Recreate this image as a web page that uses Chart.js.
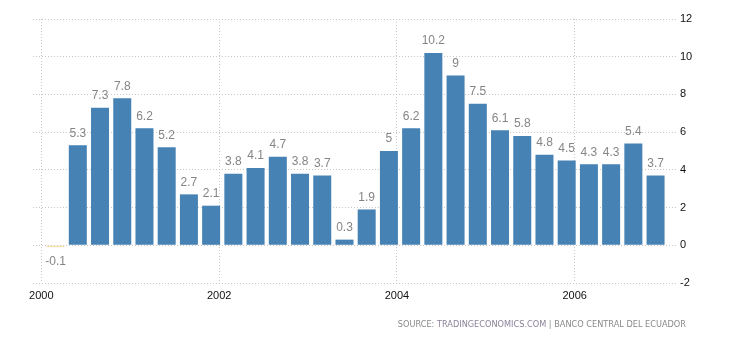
<!DOCTYPE html>
<html>
<head>
<meta charset="utf-8">
<script src="https://cdn.jsdelivr.net/npm/chart.js@4.4.0/dist/chart.umd.min.js"></script>
<style>
  html, body { margin: 0; padding: 0; background: #fff; }
  #wrap { width: 730px; height: 340px; }
</style>
</head>
<body>
<div id="wrap"><canvas id="myChart" width="730" height="340"></canvas></div>
<script>
// quarterly GDP growth, Ecuador (percent)
const quarters = [
  '2000 Q1', '2000 Q2', '2000 Q3', '2000 Q4',
  '2001 Q1', '2001 Q2', '2001 Q3', '2001 Q4',
  '2002 Q1', '2002 Q2', '2002 Q3', '2002 Q4',
  '2003 Q1', '2003 Q2', '2003 Q3', '2003 Q4',
  '2004 Q1', '2004 Q2', '2004 Q3', '2004 Q4',
  '2005 Q1', '2005 Q2', '2005 Q3', '2005 Q4',
  '2006 Q1', '2006 Q2', '2006 Q3', '2006 Q4'
];
const growth = [
  -0.1, 5.3, 7.3, 7.8,
  6.2, 5.2, 2.7, 2.1,
  3.8, 4.1, 4.7, 3.8,
  3.7, 0.3, 1.9, 5,
  6.2, 10.2, 9, 7.5,
  6.1, 5.8, 4.8, 4.5,
  4.3, 4.3, 5.4, 3.7
];
const xTicks = [2000, 2002, 2004, 2006];
const yTicks = [-2, 0, 2, 4, 6, 8, 10, 12];
const sourceText = ['SOURCE: ', 'TRADINGECONOMICS.COM', ' | BANCO CENTRAL DEL ECUADOR'];

// turn "2003 Q2" into a position on the year axis (data is dated inside the quarter)
function quarterToYear(q) {
  const parts = q.split(' Q');
  return Number(parts[0]) + (Number(parts[1]) - 1) * 0.25 + 0.16;
}

const points = quarters.map((q, i) => ({ x: quarterToYear(q), y: growth[i] }));

// value labels above (or below) each bar
const valueLabels = {
  id: 'valueLabels',
  afterDatasetsDraw(chart) {
    const ctx = chart.ctx;
    const meta = chart.getDatasetMeta(0);
    ctx.save();
    ctx.font = '12px "Liberation Sans", Arial, sans-serif';
    ctx.fillStyle = '#858585';
    ctx.textAlign = 'center';
    ctx.textBaseline = 'middle';
    meta.data.forEach((bar, i) => {
      const v = growth[i];
      ctx.fillText(String(v), bar.x, v < 0 ? bar.y + 15 : bar.y - 12);
    });
    ctx.restore();
  }
};

// source line under the chart
const sourceLine = {
  id: 'sourceLine',
  afterDraw(chart) {
    const ctx = chart.ctx;
    const area = chart.chartArea;
    ctx.save();
    ctx.font = '8.2px "DejaVu Sans", sans-serif';
    ctx.textBaseline = 'middle';
    ctx.textAlign = 'left';
    const total = sourceText.reduce((w, t) => w + ctx.measureText(t).width, 0);
    let x = area.right + 9 - total;
    const y = area.bottom + 42;
    const colors = ['#8a8a8a', '#8d8299', '#8a8a8a'];
    sourceText.forEach((t, i) => {
      ctx.fillStyle = colors[i];
      ctx.fillText(t, x, y);
      x += ctx.measureText(t).width;
    });
    ctx.restore();
  }
};

const ctx = document.getElementById('myChart').getContext('2d');
new Chart(ctx, {
  type: 'bar',
  data: {
    datasets: [{
      data: points,
      backgroundColor: growth.map(v => v < 0 ? '#f7dfae' : '#4682b4'),
      barPercentage: 0.9,
      categoryPercentage: 0.9
    }]
  },
  options: {
    responsive: false,
    animation: false,
    layout: { padding: { top: 19, left: 33, right: 0, bottom: 30 } },
    plugins: {
      legend: { display: false },
      tooltip: { enabled: false }
    },
    scales: {
      x: {
        type: 'linear',
        min: 1999.906,
        max: 2007.151,
        offset: false,
        afterBuildTicks: s => { s.ticks = xTicks.map(v => ({ value: v })); },
        afterFit: s => { s.height = 27; },
        ticks: {
          callback: v => String(v),
          color: '#111',
          font: { family: 'Liberation Sans', size: 11 },
          padding: 6,
          maxRotation: 0
        },
        grid: { color: '#c8c8c8', drawTicks: false, offset: false },
        border: { display: false, dash: [1, 2] }
      },
      y: {
        position: 'right',
        min: -2,
        max: 12,
        afterBuildTicks: s => { s.ticks = yTicks.map(v => ({ value: v })); },
        afterFit: s => { s.width = 53; },
        ticks: {
          color: '#111',
          font: { family: 'Liberation Sans', size: 11 },
          padding: 3
        },
        grid: { color: '#c8c8c8', drawTicks: false },
        border: { display: false, dash: [1, 2] }
      }
    }
  },
  plugins: [valueLabels, sourceLine]
});
</script>
</body>
</html>
